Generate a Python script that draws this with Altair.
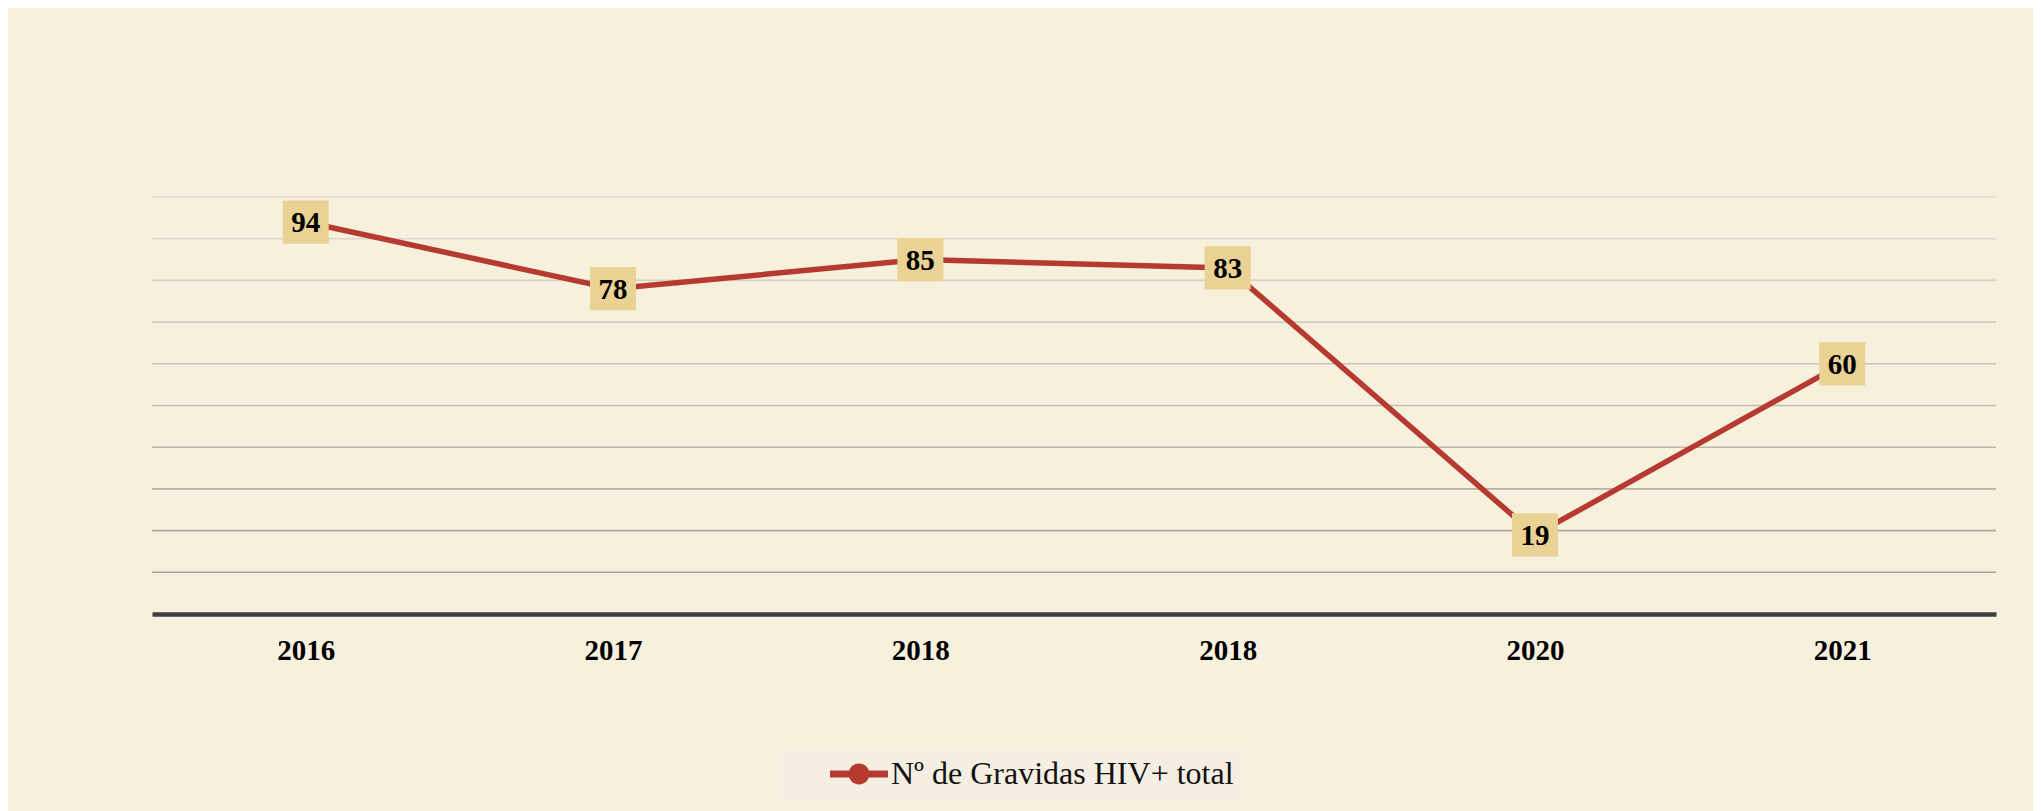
import altair as alt
import pandas as pd

years = ["2016", "2017", "2018", "2018", "2020", "2021"]
values = [94, 78, 85, 83, 19, 60]
series_name = "Nº de Gravidas HIV+ total"

df = pd.DataFrame({
    "idx": list(range(len(years))),
    "year": years,
    "value": values,
    "series": [series_name] * len(years),
})

label_expr = "[" + ",".join(f"'{y}'" for y in years) + "][datum.value]"

RED = "#b63a30"
BG = "#f7f0dc"
BOX = "#e9d294"
FONT = "Liberation Serif"

xenc = alt.X(
    "idx:O",
    scale=alt.Scale(type="point", padding=0.5),
    axis=alt.Axis(
        title=None, labelExpr=label_expr, labelAngle=0, labelFont=FONT,
        labelFontSize=29, labelFontWeight="bold", labelColor="#000",
        labelPadding=22, ticks=False, domainColor="#404040", domainWidth=4.5,
        grid=False,
    ),
)
yenc = alt.Y("value:Q", scale=alt.Scale(domain=[0, 100]), axis=None)

grid = alt.Chart(alt.sequence(10, 101, 10, as_="g")).mark_rule(strokeWidth=1.6).encode(
    y=alt.Y("g:Q", scale=alt.Scale(domain=[0, 100]), axis=None),
    stroke=alt.Stroke("g:Q", scale=alt.Scale(domain=[10, 100], range=["#a9a395", "#e4dfd2"]), legend=None),
)

base = alt.Chart(df)

line = base.mark_line(color=RED, strokeWidth=5.5).encode(x=xenc, y=yenc)

legend_symbol = "M-2,-0.24H2V0.24H-2Z M0.72,0 A0.72,0.72 0 1,1 -0.72,0 A0.72,0.72 0 1,1 0.72,0 Z"

circles = base.mark_circle(size=1660, opacity=1).encode(
    x=xenc, y=yenc,
    color=alt.Color(
        "series:N", scale=alt.Scale(range=[RED]),
        legend=alt.Legend(
            title=None, orient="none", legendX=631, legendY=551,
            symbolType=legend_symbol, symbolSize=841, symbolStrokeWidth=0,
            labelFont=FONT, labelFontSize=32, labelColor="#111",
            labelExpr="datum.label + '" + "\u00a0" * 11 + "'",
            fillColor="#f5eee2", padding=10, symbolOffset=50, labelOffset=16,
            labelLimit=800,
        ),
    ),
)

boxes = base.mark_point(
    shape="M-1,-0.94H1V0.94H-1Z", size=2116, filled=True, fill=BOX,
    strokeWidth=0, opacity=1,
).encode(x=xenc, y=yenc)

labels = base.mark_text(
    font=FONT, fontSize=29, fontWeight="bold", color="#000", baseline="middle", dy=1,
).encode(x=xenc, y=yenc, text="value:Q")

chart = alt.layer(grid, line, circles, boxes, labels).properties(
    width=1844, height=417,
    padding={"left": 144, "top": 189, "right": 37, "bottom": 197},
    autosize=alt.AutoSizeParams(type="none"),
    background=BG,
).configure_view(stroke=None)

chart.save("out.html", embed_options={"renderer": "svg", "actions": False})
